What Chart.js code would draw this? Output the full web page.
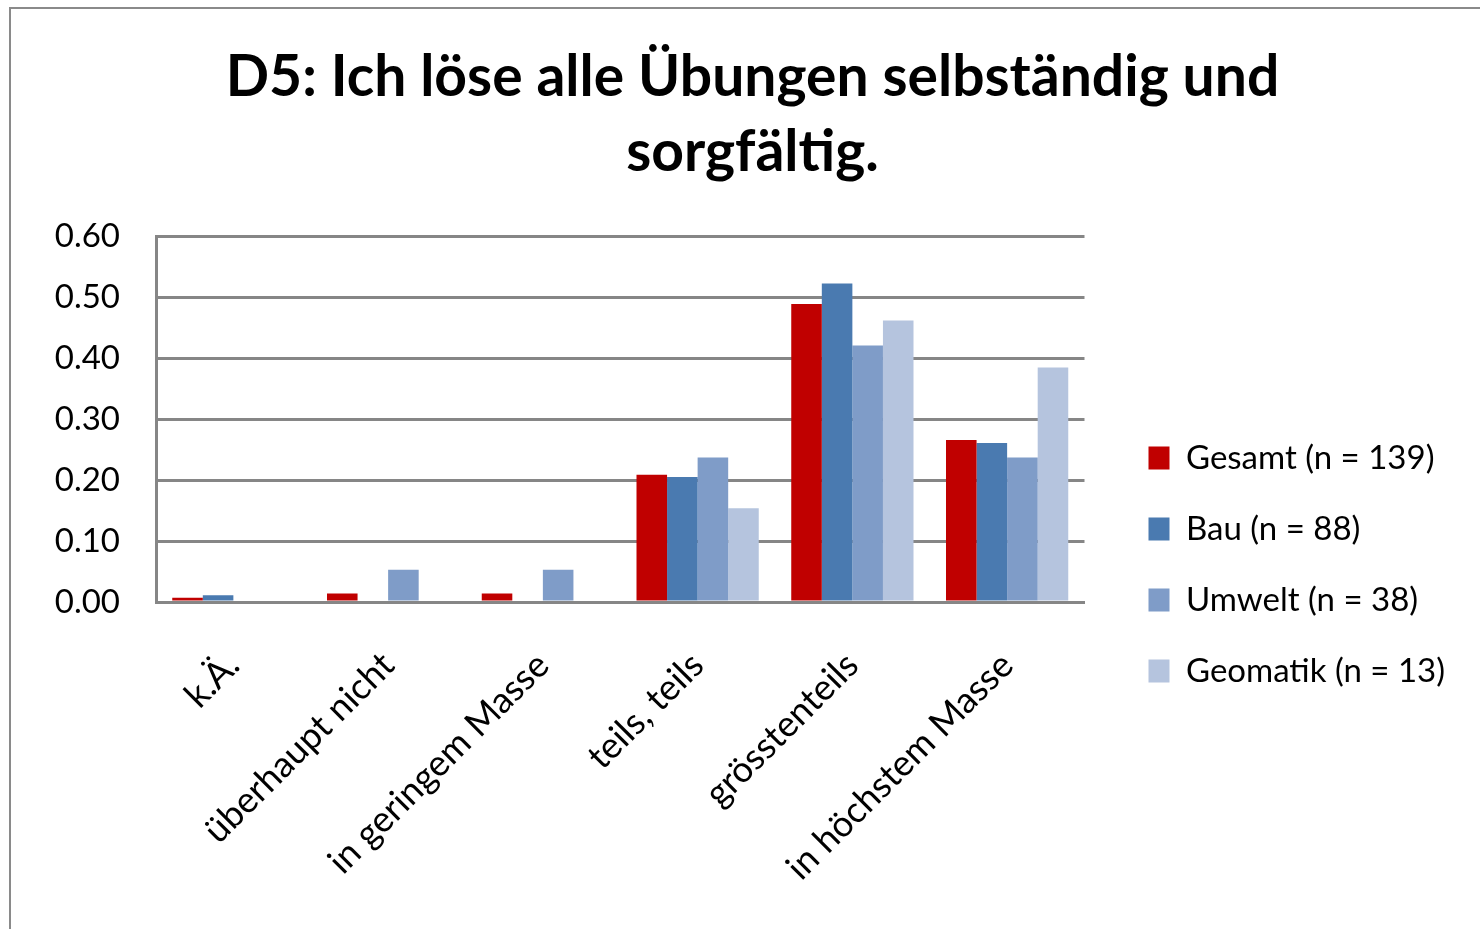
<!DOCTYPE html>
<html>
<head>
<meta charset="utf-8">
<script src="https://cdn.jsdelivr.net/npm/chart.js@4.4.1/dist/chart.umd.min.js"></script>
<style>
  html, body { margin: 0; padding: 0; background: #fff; }
  #wrap { position: relative; width: 1480px; height: 929px; overflow: hidden; }
  #frame { position: absolute; left: 9px; top: 7px; width: 1600px; height: 1000px; border: 2px solid #8a8a8a; pointer-events: none; }
  canvas { position: absolute; left: 0; top: 0; }
</style>
</head>
<body>
<div id="wrap">
  <canvas id="chart" width="1480" height="929"></canvas>
  <div id="frame"></div>
</div>
<script>
const categories = ["k.Ä.", "überhaupt nicht", "in geringem Masse", "teils, teils", "grösstenteils", "in höchstem Masse"];
const seriesNames = ["Gesamt (n = 139)", "Bau (n = 88)", "Umwelt (n = 38)", "Geomatik (n = 13)"];
const gesamt = [0.007, 0.014, 0.014, 0.209, 0.489, 0.266];
const bau = [0.011, 0, 0, 0.205, 0.523, 0.261];
const umwelt = [0, 0.053, 0.053, 0.237, 0.421, 0.237];
const geomatik = [0, 0, 0, 0.154, 0.462, 0.385];
const colors = ["#c00000", "#4a7ab0", "#7f9cc8", "#b5c4de"];
const titleLines = ["D5: Ich löse alle Übungen selbständig und", "sorgfältig."];

const FONT = "Lato";
const GRID = "#868686";

const datasets = [gesamt, bau, umwelt, geomatik].map((data, i) => ({
  label: seriesNames[i],
  data,
  backgroundColor: colors[i],
  borderWidth: 0,
  categoryPercentage: 0.79,
  barPercentage: 1.0,
}));

const ctx = document.getElementById("chart").getContext("2d");
new Chart(ctx, {
  type: "bar",
  data: { labels: categories, datasets },
  options: {
    responsive: false,
    animation: false,
    devicePixelRatio: 1,
    layout: { padding: { left: 50, right: 25, top: 0, bottom: 0 } },
    plugins: {
      title: {
        display: true,
        text: titleLines,
        color: "#000",
        font: { family: FONT, size: 57, weight: "bold", lineHeight: 1.32 },
        padding: { top: 40, bottom: 46 },
      },
      legend: {
        position: "right",
        align: "center",
        maxWidth: 500,
        title: { display: true, text: " ", font: { size: 10 }, padding: { top: 188, bottom: 0 } },
        labels: {
          color: "#000",
          font: { family: FONT, size: 33 },
          boxWidth: 21,
          boxHeight: 23,
          padding: 38,
        },
      },
      tooltip: { enabled: false },
    },
    scales: {
      x: {
        grid: { display: false },
        border: { color: GRID, width: 3 },
        ticks: {
          color: "#000",
          font: { family: FONT, size: 36 },
          minRotation: 45,
          maxRotation: 45,
          padding: 34,
        },
        afterFit: (s) => { s.height = 327; },
      },
      y: {
        min: 0,
        max: 0.6,
        grid: { color: GRID, lineWidth: 3, drawTicks: false },
        border: { color: GRID, width: 3 },
        ticks: {
          stepSize: 0.1,
          color: "#000",
          font: { family: FONT, size: 33 },
          padding: 36,
          callback: (v) => v.toFixed(2),
        },
        afterFit: (s) => { s.width = 106; },
      },
      gap: {
        type: "linear",
        position: "right",
        grid: { display: false },
        border: { display: false },
        ticks: { display: false },
        afterFit: (s) => { s.width = 26; },
      },
    },
  },
});
</script>
</body>
</html>
